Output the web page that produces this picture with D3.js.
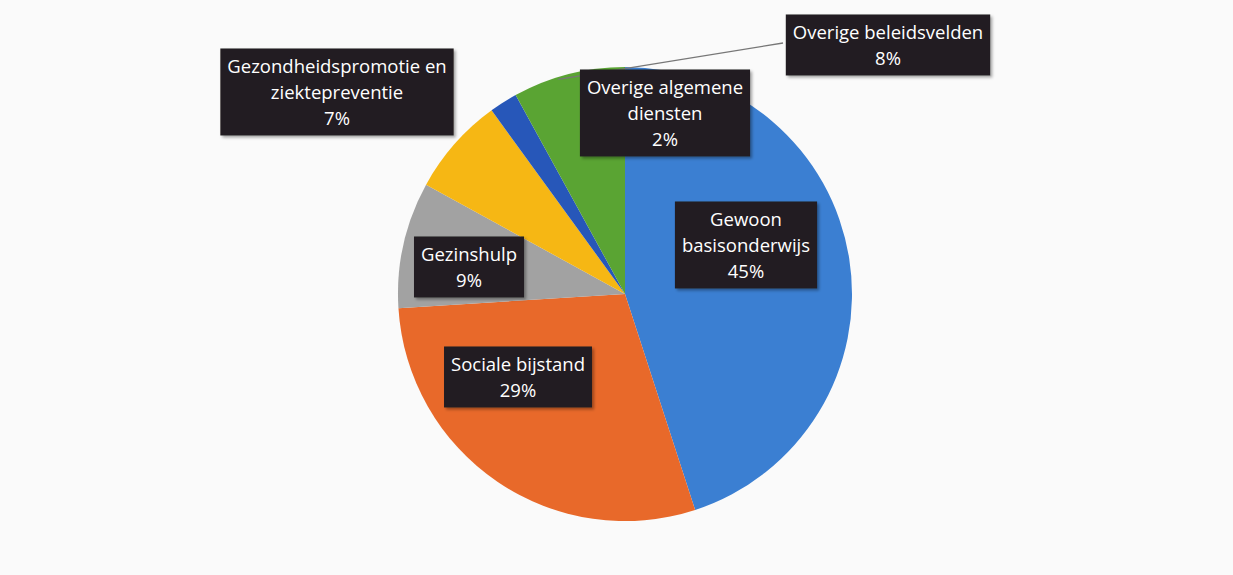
<!DOCTYPE html>
<html>
<head>
<meta charset="utf-8">
<script src="https://cdn.jsdelivr.net/npm/d3@7"></script>
<style>
  html, body { margin: 0; padding: 0; background: #fafafa; }
  svg { display: block; }
</style>
</head>
<body>
<div id="chart"></div>
<script>
// data
var categories = ["Gewoon basisonderwijs", "Sociale bijstand", "Gezinshulp",
                  "Gezondheidspromotie en ziektepreventie", "Overige algemene diensten", "Overige beleidsvelden"];
var values = [45, 29, 9, 7, 2, 8];
var labelLines = [
  ["Gewoon", "basisonderwijs"],
  ["Sociale bijstand"],
  ["Gezinshulp"],
  ["Gezondheidspromotie en", "ziektepreventie"],
  ["Overige algemene", "diensten"],
  ["Overige beleidsvelden"]
];

// layout / style
var width = 1233, height = 575;
var cx = 625, cy = 294, radius = 227;
var colors = ["#3b7fd2", "#e8692a", "#a2a2a2", "#f6b714", "#2757b9", "#5aa433"];
// label centres relative to the pie centre
var labelOffsets = [[121, -48], [-107, 84], [-156, -26], [-288, -201], [40, -180], [263, -248]];
var fontSize = 18.5, lineH = 26, padX = 7, padY = 5;

var svg = d3.select("#chart").append("svg")
    .attr("width", width)
    .attr("height", height);

var defs = svg.append("defs");
var f = defs.append("filter").attr("id", "shadow")
    .attr("x", "-10%").attr("y", "-10%").attr("width", "130%").attr("height", "140%");
f.append("feDropShadow").attr("dx", 2).attr("dy", 2).attr("stdDeviation", 1.5)
    .attr("flood-color", "#000").attr("flood-opacity", 0.35);

var pie = d3.pie().sort(null).value(function(d){ return d; });
var arc = d3.arc().innerRadius(0).outerRadius(radius);
var arcs = pie(values);

var g = svg.append("g").attr("transform", "translate(" + cx + "," + cy + ")");

g.selectAll("path.slice")
  .data(arcs)
  .enter().append("path")
  .attr("class", "slice")
  .attr("d", arc)
  .attr("fill", function(d, i){ return colors[i]; });

// leader line for the last label
var lastArc = arcs[arcs.length - 1];
var leadAng = (lastArc.startAngle + lastArc.endAngle) / 2 - 0.05;
var lo = labelOffsets[labelOffsets.length - 1];
g.append("line")
  .attr("x1", Math.sin(leadAng) * radius * 0.99)
  .attr("y1", -Math.cos(leadAng) * radius * 0.99)
  .attr("x2", lo[0] - 105)
  .attr("y2", lo[1] - 3)
  .attr("stroke", "#777")
  .attr("stroke-width", 1.3);

var labels = g.selectAll("g.label")
  .data(arcs)
  .enter().append("g")
  .attr("class", "label")
  .attr("transform", function(d, i){
    return "translate(" + labelOffsets[i][0] + "," + labelOffsets[i][1] + ")";
  });

labels.each(function(d, i){
  var sel = d3.select(this);
  var lines = labelLines[i].concat([d.data + "%"]);
  var box = sel.append("rect").attr("fill", "#221f20").attr("filter", "url(#shadow)");
  var t = sel.append("text")
    .attr("text-anchor", "middle")
    .attr("fill", "#ffffff")
    .attr("font-family", "'Open Sans', sans-serif")
    .attr("font-size", fontSize);
  var top = -(lines.length - 1) * lineH / 2;
  lines.forEach(function(s, k){
    t.append("tspan")
      .attr("x", 0)
      .attr("y", top + k * lineH)
      .attr("dy", "0.35em")
      .text(s);
  });
  var bb = t.node().getBBox();
  box.attr("x", bb.x - padX)
     .attr("y", bb.y - padY)
     .attr("width", bb.width + padX * 2)
     .attr("height", bb.height + padY * 2);
});
</script>
</body>
</html>
